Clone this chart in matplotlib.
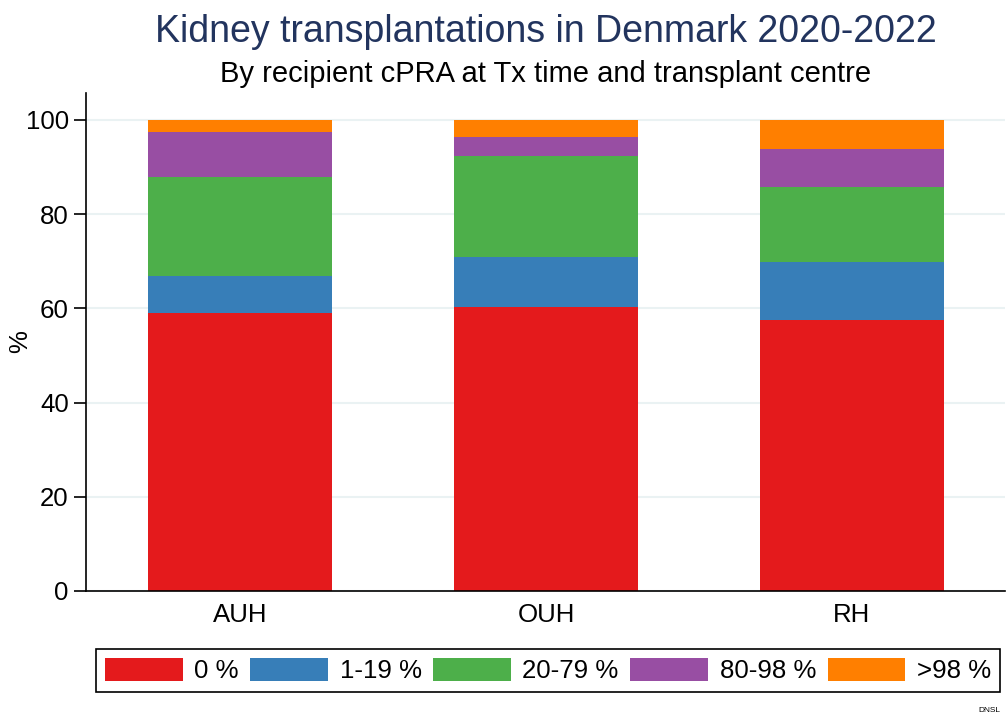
import numpy as np
import matplotlib.pyplot as plt

plt.rcParams['font.family'] = ['Liberation Sans', 'DejaVu Sans']

centres = ['AUH', 'OUH', 'RH']
groups = ['0 %', '1-19 %', '20-79 %', '80-98 %', '>98 %']
colors = ['#E41A1C', '#377EB8', '#4DAF4A', '#984EA3', '#FF7F00']

# share of transplants (%) per cPRA group, per centre
pct_0 = [59.0, 60.3, 57.6]
pct_1_19 = [7.9, 10.6, 12.3]
pct_20_79 = [20.9, 21.5, 15.9]
pct_80_98 = [9.7, 4.0, 8.0]
pct_98 = [2.5, 3.6, 6.2]

series = [pct_0, pct_1_19, pct_20_79, pct_80_98, pct_98]

W, H = 1006, 716
FS = 18.6
fig = plt.figure(figsize=(W / 100, H / 100), dpi=100)
ax = fig.add_axes([86 / W, 1 - 591 / H, (1005 - 86) / W, (591 - 93) / H])

x = np.arange(len(centres))
bottom = np.zeros(len(centres))
for vals, lab, col in zip(series, groups, colors):
    ax.bar(x, vals, width=0.6, bottom=bottom, color=col, label=lab, zorder=2)
    bottom += np.array(vals)

ax.set_xlim(-0.503, 2.5)
ax.set_ylim(0, 105.7)
ax.set_yticks([0, 20, 40, 60, 80, 100])
ax.set_xticks(x)
ax.set_xticklabels(centres)
ax.grid(axis='y', color='#eaf2f3', lw=1.5, zorder=0)
ax.spines['top'].set_visible(False)
ax.spines['right'].set_visible(False)
ax.spines['left'].set_linewidth(1.2)
ax.spines['bottom'].set_linewidth(1.2)
ax.tick_params(axis='y', length=8.5, width=1.2, labelsize=FS, pad=4)
ax.tick_params(axis='x', length=0, labelsize=FS, pad=9)

fig.text(20 / W, 1 - 342 / H, '%', rotation=90, ha='center', va='center', fontsize=FS)
fig.text(546 / W, 1 - 42 / H, 'Kidney transplantations in Denmark 2020-2022',
         ha='center', va='baseline', fontsize=27, color='#22345e')
fig.text(546 / W, 1 - 82 / H, 'By recipient cPRA at Tx time and transplant centre',
         ha='center', va='baseline', fontsize=21, color='black')

leg = fig.legend(loc='lower left', bbox_to_anchor=(96 / W, 1 - 692 / H, 904 / W, 48 / H),
                 mode='expand', ncol=5, fontsize=FS, fancybox=False, framealpha=1,
                 edgecolor='black', handlelength=3.0, handleheight=1.0,
                 handletextpad=0.45, columnspacing=0.5, borderaxespad=0, borderpad=0.35)
leg.get_frame().set_linewidth(1.2)

fig.text(1000 / W, 1 - 712 / H, 'DNSL', ha='right', va='baseline', fontsize=6)

fig.savefig('out.png', dpi=100)
